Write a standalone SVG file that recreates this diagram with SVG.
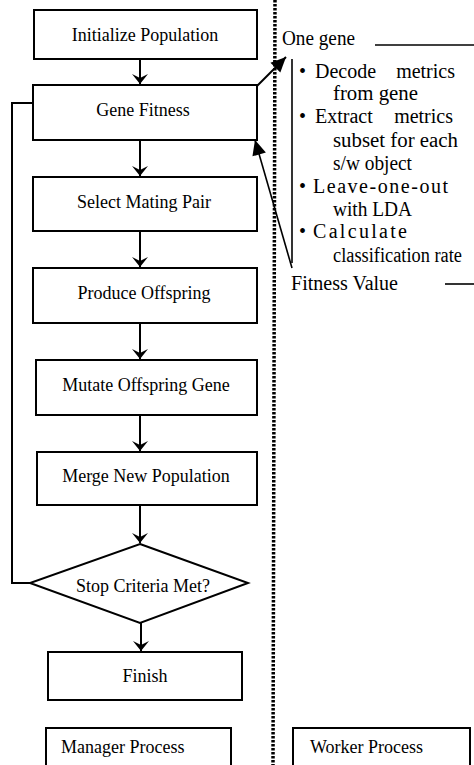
<svg xmlns="http://www.w3.org/2000/svg" width="474" height="765" viewBox="0 0 474 765">
<style>
.box{fill:#fff;stroke:#000;stroke-width:2}
.t{font-family:"Liberation Serif","Times New Roman",serif;font-size:18px;fill:#000}
.w{font-family:"Liberation Serif","Times New Roman",serif;font-size:20px;fill:#000}
.c{text-anchor:middle}
.ln{fill:none;stroke:#000;stroke-width:2}
.thin{fill:none;stroke:#000;stroke-width:1.6}
</style>
<defs>
<marker id="ah" markerUnits="userSpaceOnUse" markerWidth="20" markerHeight="20" viewBox="-10 -10 20 20" refX="0" refY="0" orient="auto">
<path d="M0,0 L-10,-8 L-6,0 L-10,8 Z" fill="#000"/>
</marker>
<marker id="big" markerUnits="userSpaceOnUse" markerWidth="24" markerHeight="24" viewBox="-16 -12 20 24" refX="0" refY="0" orient="auto">
<path d="M0,0 L-15,-7 L-15,7 Z" fill="#000"/>
</marker>
</defs>
<line x1="275" y1="0" x2="273" y2="765" stroke="#000" stroke-width="3.5" stroke-dasharray="2.5 1.5"/>
<g id="connectors">
<line class="ln" x1="140" y1="59" x2="140" y2="84" marker-end="url(#ah)"/>
<line class="ln" x1="140" y1="140" x2="140" y2="176" marker-end="url(#ah)"/>
<line class="ln" x1="140" y1="231" x2="140" y2="267" marker-end="url(#ah)"/>
<line class="ln" x1="140" y1="323" x2="140" y2="359" marker-end="url(#ah)"/>
<line class="ln" x1="140" y1="415" x2="140" y2="451" marker-end="url(#ah)"/>
<line class="ln" x1="140" y1="505" x2="140" y2="543" marker-end="url(#ah)"/>
<line class="ln" x1="141" y1="623" x2="141" y2="651" marker-end="url(#ah)"/>
<polyline class="ln" points="33,103 12,103 12,583 30,583"/>
<line class="ln" x1="257" y1="86" x2="286" y2="57" marker-end="url(#big)"/>
<line class="thin" x1="292" y1="268" x2="255" y2="140" marker-end="url(#big)"/>
</g>
<g id="n1"><rect class="box" x="34" y="10" width="223" height="49"/><text class="t c" x="145" y="41">Initialize Population</text></g>
<g id="n2"><rect class="box" x="33" y="85" width="224" height="55"/><text class="t c" x="143" y="116">Gene Fitness</text></g>
<g id="n3"><rect class="box" x="33" y="177" width="224" height="54"/><text class="t c" x="144" y="208">Select Mating Pair</text></g>
<g id="n4"><rect class="box" x="33" y="268" width="224" height="55"/><text class="t c" x="144" y="299">Produce Offspring</text></g>
<g id="n5"><rect class="box" x="36" y="360" width="221" height="55"/><text class="t c" x="146" y="391">Mutate Offspring Gene</text></g>
<g id="n6"><rect class="box" x="37" y="452" width="220" height="53"/><text class="t c" x="146" y="482">Merge New Population</text></g>
<g id="n7"><polygon class="box" points="140,544 248,583 140,623 30,583"/><text class="t c" x="143" y="592">Stop Criteria Met?</text></g>
<g id="n8"><rect class="box" x="48" y="652" width="194" height="48"/><text class="t c" x="145" y="682">Finish</text></g>
<g id="n9"><rect class="box" x="46" y="728" width="185" height="45"/><text class="t" x="61" y="753">Manager Process</text></g>
<g id="n10"><rect class="box" x="293" y="728" width="177" height="45"/><text class="t" x="310" y="753">Worker Process</text></g>
<g id="worker">
<text class="w" x="282" y="45" textLength="73" lengthAdjust="spacingAndGlyphs">One gene</text>
<line class="thin" x1="375" y1="45" x2="474" y2="45"/>
<line class="thin" x1="292" y1="59" x2="292" y2="263"/>
<text class="w" x="299" y="78">•</text>
<text class="w" x="315" y="78">Decode<tspan x="455" text-anchor="end">metrics</tspan></text>
<text class="w" x="333" y="100" textLength="85" lengthAdjust="spacingAndGlyphs">from gene</text>
<text class="w" x="299" y="123">•</text>
<text class="w" x="315" y="123">Extract<tspan x="453" text-anchor="end">metrics</tspan></text>
<text class="w" x="333" y="147" textLength="125" lengthAdjust="spacingAndGlyphs">subset for each</text>
<text class="w" x="333" y="170" textLength="79" lengthAdjust="spacingAndGlyphs">s/w object</text>
<text class="w" x="299" y="193">•</text>
<text class="w" x="313" y="193" textLength="135" lengthAdjust="spacing">Leave-one-out</text>
<text class="w" x="333" y="216" textLength="79" lengthAdjust="spacingAndGlyphs">with LDA</text>
<text class="w" x="299" y="238">•</text>
<text class="w" x="313" y="238" textLength="94" lengthAdjust="spacing">Calculate</text>
<text class="w" x="333" y="262" textLength="129" lengthAdjust="spacingAndGlyphs">classification rate</text>
<text class="w" x="291" y="290" textLength="107" lengthAdjust="spacingAndGlyphs">Fitness Value</text>
<line class="thin" x1="445" y1="284" x2="474" y2="284"/>
</g>
</svg>
